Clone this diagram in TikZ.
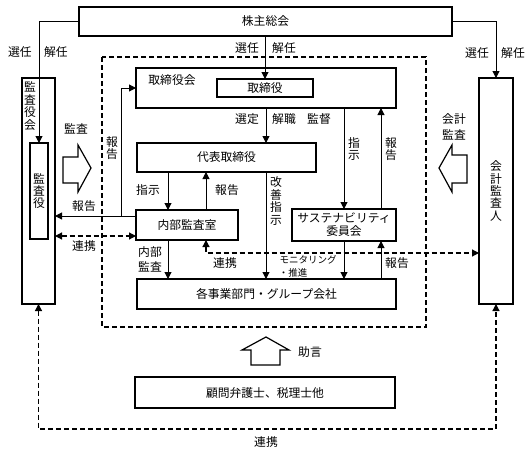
\documentclass[tikz,border=0pt]{standalone}
\usepackage{fontspec}
\setmainfont{Noto Sans CJK JP}
\usetikzlibrary{arrows.meta}
\tikzset{
  box/.style={draw,line width=1.2pt,inner sep=0pt,outer sep=0pt,fill=white},
  lbl/.style={inner sep=0pt,font=\fontsize{11.8}{13}\selectfont},
  small/.style={inner sep=0pt,font=\fontsize{9.5}{11}\selectfont},
  vtext/.style={inner sep=0pt,align=center,font=\fontsize{11.8}{12.4}\selectfont},
  arr/.style={line width=1pt,-{Triangle[length=7pt,width=7pt]}},
  darr/.style={line width=1.2pt,dash pattern=on 5pt off 3pt,{Triangle[length=7pt,width=7pt]}-{Triangle[length=7pt,width=7pt]}},
  hollow/.style={draw,line width=1.2pt,fill=white,line join=miter},
}
\begin{document}
\begin{tikzpicture}[x=1pt,y=-1pt]
\useasboundingbox (0,0) rectangle (531,453);
% dashed frame
\draw[line width=1.3pt,dash pattern=on 5pt off 3pt] (102,57) rectangle (426,327);
% coordinates
\coordinate (cD) at (121,0);
\coordinate (cA) at (168,0);
\coordinate (cB) at (206,0);
\coordinate (cE) at (266,0);
\coordinate (cC) at (381,0);
\coordinate (r216) at (0,216);
\coordinate (r236) at (0,236);
\coordinate (r253) at (0,253);
\coordinate (bot) at (266,429);
% boxes
\node[box,minimum width=373pt,minimum height=29pt,lbl] (kabu) at (265.5,21.5) {株主総会};
\node[box,minimum width=33pt,minimum height=226pt] (kansayakukai) at (38.5,191) {};
\node[vtext] (tkansayakukai) at (30,106) {監\\査\\役\\会};
\node[box,minimum width=18pt,minimum height=96pt,vtext] (kansayaku) at (39,191) {監\\査\\役};
\node[box,minimum width=260pt,minimum height=40pt] (torikai) at (266,88) {};
\node[lbl] (ttorikai) at (172,80) {取締役会};
\node[box,minimum width=96pt,minimum height=18pt,lbl] (torishimari) at (265,88) {取締役};
\node[box,minimum width=179pt,minimum height=29pt,lbl] (daihyo) at (226.5,157.5) {代表取締役};
\node[box,minimum width=102pt,minimum height=30pt,lbl] (naibu) at (187,225) {内部監査室};
\node[box,minimum width=104pt,minimum height=32pt,lbl,align=center] (sus) at (344,225) {サステナビリティ\\委員会};
\node[box,minimum width=259pt,minimum height=30pt,lbl] (kaku) at (266.5,294) {各事業部門・グループ会社};
\node[box,minimum width=260pt,minimum height=31pt,lbl] (komon) at (265,392.5) {顧問弁護士、税理士他};
\node[box,minimum width=34pt,minimum height=226pt,vtext] (kaikei) at (496,191) {会\\計\\監\\査\\人};
% connectors
\draw[arr] (kabu.west) -| (kansayaku.north);
\draw[arr] (kabu.east) -| (kaikei.north);
\draw[arr] (torishimari.north |- kabu.south) -- (torishimari.north);
\draw[arr] (torikai.south) -- (torikai.south |- daihyo.north);
\draw[arr] (sus.north |- torikai.south) -- (sus.north);
\draw[arr] (sus.north -| cC) -- (torikai.south -| cC);
\draw[arr] (daihyo.south -| cA) -- (naibu.north -| cA);
\draw[arr] (naibu.north -| cB) -- (daihyo.south -| cB);
\draw[arr] (naibu.west |- r216) -- (kansayakukai.east |- r216);
\draw[arr] (cD |- r216) -- (cD |- torikai.west) -- (torikai.west);
\draw[darr] (kansayakukai.east |- r236) -- (naibu.west |- r236);
\draw[arr] (naibu.south -| cA) -- (kaku.north -| cA);
\draw[darr] (naibu.south -| cB) |- (kaikei.west |- r253);
\draw[arr] (daihyo.south -| cE) -- (kaku.north -| cE);
\draw[arr] (sus.south) -- (kaku.north -| sus.south);
\draw[arr] (kaku.north -| cC) -- (sus.south -| cC);
\draw[darr] (kansayakukai.south) |- (bot) -| (kaikei.south);
% hollow arrows
\draw[hollow] (63,157) -- (78,157) -- (78,145) -- (91,168) -- (78,192) -- (78,183) -- (63,183) -- cycle;
\draw[hollow] (467,155) -- (452,155) -- (452,145) -- (439,168) -- (452,192) -- (452,183) -- (467,183) -- cycle;
\draw[hollow] (266,337) -- (289,350) -- (280,350) -- (280,365) -- (251,365) -- (251,350) -- (242,350) -- cycle;
% labels
\node[lbl] (l1) at (20,52) {選任};
\node[lbl] (l2) at (56,52) {解任};
\node[lbl] (l3) at (247,48) {選任};
\node[lbl] (l4) at (284,48) {解任};
\node[lbl] (l5) at (477,53) {選任};
\node[lbl] (l6) at (513,53) {解任};
\node[lbl] (l7) at (76,129) {監査};
\node[vtext] (l8) at (112,148) {報\\告};
\node[lbl] (l9) at (84,206) {報告};
\node[lbl] (l10) at (84,246) {連携};
\node[lbl] (l11) at (247,119) {選定};
\node[lbl] (l12) at (284,119) {解職};
\node[lbl] (l13) at (319,119) {監督};
\node[vtext] (l14) at (354,149) {指\\示};
\node[vtext] (l15) at (391,149) {報\\告};
\node[vtext,font=\fontsize{11.8}{16}\selectfont] (l16) at (454,126.5) {会計\\監査};
\node[lbl] (l17) at (148,190) {指示};
\node[lbl] (l18) at (227,190) {報告};
\node[vtext,font=\fontsize{11.8}{15}\selectfont] (l19) at (150,259.5) {内部\\監査};
\node[lbl] (l20) at (225,263) {連携};
\node[vtext] (l21) at (276,201) {改\\善\\指\\示};
\node[small] (l22) at (308,260) {モニタリング};
\node[small] (l23) at (293,273) {・推進};
\node[lbl] (l24) at (397,263) {報告};
\node[lbl] (l25) at (310,352) {助言};
\node[lbl] (l26) at (266,442) {連携};
\end{tikzpicture}
\end{document}
